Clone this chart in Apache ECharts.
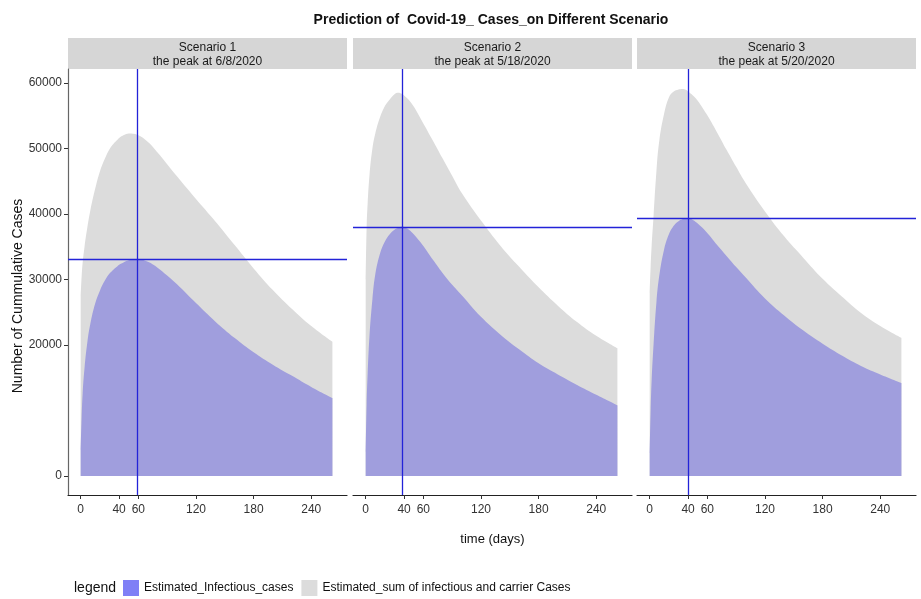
<!DOCTYPE html>
<html>
<head>
<meta charset="utf-8">
<script src="https://cdn.jsdelivr.net/npm/echarts@6/dist/echarts.min.js"></script>
<style>html,body{margin:0;padding:0;background:#fff}#chart{width:921px;height:599px}</style>
</head>
<body>
<div id="chart"></div>
<script>
const days = [0,1,2,4,7,10,15,20,25,30,34,38,40,45,50,59,70,80,90,100,120,140,160,180,200,220,240,262];

const infectious1 = [4000,9000,12500,16500,20500,23200,26300,28300,29800,30900,31500,32000,32250,32650,32950,33150,32700,31800,30600,29300,26400,23600,21100,18900,17000,15300,13600,11900];
const total1 = [27500,30500,32500,35000,38000,40500,43800,46500,48400,49900,50700,51300,51600,52050,52300,52100,51000,49400,47600,45800,42300,38900,35300,31700,28400,25500,22900,20500];

const infectious2 = [3700,11000,15500,21500,27000,30800,34000,35800,36900,37600,37900,38050,38000,37600,36900,35300,33000,31000,29200,27600,24300,21600,19300,17200,15500,13900,12400,10800];
const total2 = [30000,38000,41500,46000,50000,52300,54800,56500,57500,58300,58500,58300,58100,57400,56400,54100,51200,48500,45850,43200,39000,35200,31900,28800,26000,23500,21400,19500];

const infectious3 = [3500,10000,14500,20000,26500,30600,34600,36900,38200,38900,39200,39380,39400,39100,38550,37250,35300,33600,31900,30300,27100,24500,22200,20200,18400,16800,15500,14200];
const total3 = [28000,32000,35000,39600,46500,51200,55300,57800,58700,59000,59100,58950,58700,58100,57300,55300,52500,49800,47200,44700,40400,36600,33300,30100,27400,24900,22900,21100];

const peakDays = [59, 38, 40];
const scenarioNames = ['Scenario 1', 'Scenario 2', 'Scenario 3'];
const peakDates = ['6/8/2020', '5/18/2020', '5/20/2020'];
const xTicks = [0, 40, 60, 120, 180, 240];
const yTicks = [0, 20000, 30000, 40000, 50000, 60000];
const seriesNames = ['Estimated_Infectious_cases', 'Estimated_sum of infectious and carrier Cases'];

const infectious = [infectious1, infectious2, infectious3];
const totals = [total1, total2, total3];

const FONT = "'Liberation Sans', Arial, sans-serif";
const BLUE_AREA = '#a09edd';
const GRAY_AREA = '#dcdcdc';
const LINE_BLUE = '#2323d8';

const panelLefts = [68, 353, 637];
const panelW = 279;
const gridTop = 69, gridH = 426;

const grids = [], xAxes = [], yAxes = [], series = [], graphics = [];

panelLefts.forEach((left, i) => {
  grids.push({ left: left, top: gridTop, width: panelW, height: gridH, containLabel: false });
  xAxes.push({
    type: 'value', gridIndex: i, min: -13.2, max: 277.2,
    name: i === 1 ? 'time (days)' : '', nameLocation: 'middle', nameGap: 38,
    nameTextStyle: { fontFamily: FONT, fontSize: 13, color: '#111' },
    axisLine: { show: true, onZero: false, lineStyle: { color: '#222', width: 1.2 } },
    axisTick: { show: true, length: 4, customValues: xTicks, lineStyle: { color: '#333' } },
    axisLabel: { customValues: xTicks, fontFamily: FONT, fontSize: 12, color: '#333', margin: 9 },
    splitLine: { show: false }
  });
  yAxes.push({
    type: 'value', gridIndex: i, min: -2900, max: 62140,
    axisLine: { show: i === 0, onZero: false, lineStyle: { color: '#666', width: 1.2 } },
    axisTick: { show: i === 0, length: 4, customValues: yTicks, lineStyle: { color: '#333' } },
    axisLabel: { show: i === 0, customValues: yTicks, fontFamily: FONT, fontSize: 12, color: '#333', margin: 6,
      formatter: v => String(v) },
    splitLine: { show: false }
  });
  const peakVal = Math.max.apply(null, infectious[i]);
  series.push({
    name: seriesNames[1], type: 'line', xAxisIndex: i, yAxisIndex: i,
    data: days.map((d, k) => [d, totals[i][k]]),
    smooth: 0.4, showSymbol: false, symbol: 'none',
    lineStyle: { width: 0 }, itemStyle: { color: GRAY_AREA },
    areaStyle: { color: GRAY_AREA, opacity: 1 }, z: 1, silent: true
  });
  series.push({
    name: seriesNames[0], type: 'line', xAxisIndex: i, yAxisIndex: i,
    data: days.map((d, k) => [d, infectious[i][k]]),
    smooth: 0.4, showSymbol: false, symbol: 'none',
    lineStyle: { width: 0 }, itemStyle: { color: BLUE_AREA },
    areaStyle: { color: BLUE_AREA, opacity: 1 }, z: 2, silent: true,
    markLine: {
      silent: true, symbol: 'none', label: { show: false },
      lineStyle: { color: LINE_BLUE, width: 1.3, type: 'solid' },
      data: [{ xAxis: peakDays[i] }, { yAxis: peakVal }],
      z: 5
    }
  });
  graphics.push({
    type: 'rect', shape: { x: left, y: 38, width: panelW, height: 31 },
    style: { fill: '#d6d6d6' }, silent: true
  });
  graphics.push({
    type: 'text', x: left + panelW / 2, y: 55,
    style: { text: scenarioNames[i] + '\nthe peak at ' + peakDates[i], fontFamily: FONT, fontSize: 12,
      lineHeight: 14, fill: '#1a1a1a', textAlign: 'center', textVerticalAlign: 'middle' },
    silent: true
  });
});

graphics.push({
  type: 'text', x: 491, y: 20,
  style: { text: 'Prediction of  Covid-19_ Cases_on Different Scenario', fontFamily: FONT, fontSize: 14,
    fontWeight: 'bold', fill: '#111', textAlign: 'center', textVerticalAlign: 'middle' }
});
graphics.push({
  type: 'text', x: 18, y: 296, rotation: Math.PI / 2,
  style: { text: 'Number of Cummulative Cases', fontFamily: FONT, fontSize: 14, fill: '#111',
    textAlign: 'center', textVerticalAlign: 'middle' }
});
graphics.push({
  type: 'text', x: 74, y: 588,
  style: { text: 'legend', fontFamily: FONT, fontSize: 14, fill: '#111', textAlign: 'left', textVerticalAlign: 'middle' }
});

const chart = echarts.init(document.getElementById('chart'), null, { renderer: 'canvas' });
chart.setOption({
  backgroundColor: '#ffffff',
  animation: false,
  grid: grids,
  xAxis: xAxes,
  yAxis: yAxes,
  legend: {
    left: 118, top: 575, itemWidth: 16, itemHeight: 16, itemGap: 8, icon: 'rect',
    textStyle: { fontFamily: FONT, fontSize: 12, color: '#111' },
    data: [
      { name: seriesNames[0], itemStyle: { color: '#7f7ff6' } },
      { name: seriesNames[1], itemStyle: { color: '#dcdcdc' } }
    ]
  },
  series: series,
  graphic: graphics
});
</script>
</body>
</html>
